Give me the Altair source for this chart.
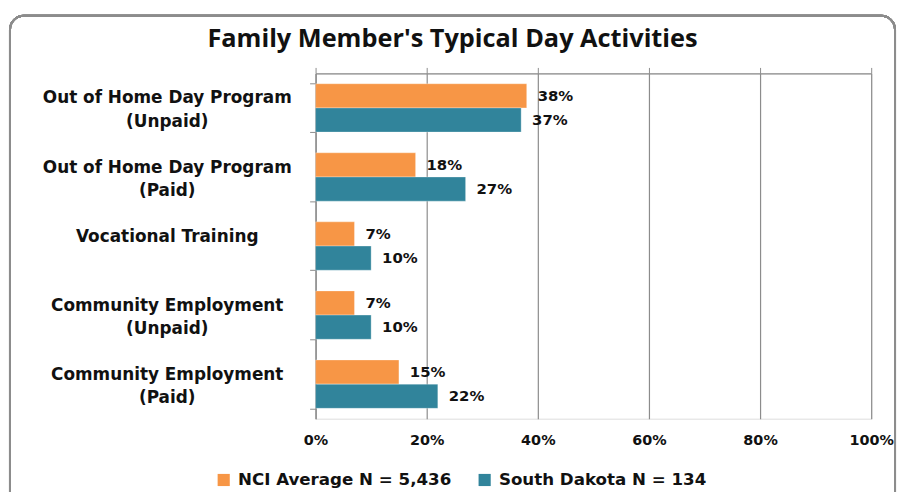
import altair as alt
import pandas as pd

categories = [
    "Out of Home Day Program (Unpaid)",
    "Out of Home Day Program (Paid)",
    "Vocational Training",
    "Community Employment (Unpaid)",
    "Community Employment (Paid)",
]
series = ["NCI Average N = 5,436", "South Dakota N = 134"]
nci_values = [38, 18, 7, 7, 15]
sd_values = [37, 27, 10, 10, 22]
colors = ["#F79646", "#31849B"]
x_ticks = [0, 20, 40, 60, 80, 100]

rows = []
for c, a, b in zip(categories, nci_values, sd_values):
    rows.append({"cat": c, "series": series[0], "value": a})
    rows.append({"cat": c, "series": series[1], "value": b})
df = pd.DataFrame(rows)

FONT = "DejaVu Sans"
TFONT = "Open Sans"
W, H = 560, 348

y_enc = alt.Y(
    "cat:N", sort=categories, title=None,
    scale=alt.Scale(paddingInner=0.3, paddingOuter=0.15),
    axis=alt.Axis(
        labelExpr="indexof(datum.label,' (')>0 ? [substring(datum.label,0,indexof(datum.label,' (')), substring(datum.label,indexof(datum.label,' (')+1)] : datum.label",
        labelOffset=-10,
        labelAlign="center", labelPadding=144, labelFont=FONT, labelFontSize=17,
        labelFontWeight="bold", labelColor="#111111", labelLineHeight=24, labelLimit=400,
        tickBand="extent", tickSize=6, tickColor="#8c8c8c", domainColor="#8c8c8c",
        domainWidth=1.2, grid=False,
    ),
)
yoff = alt.YOffset("series:N", sort=series, scale=alt.Scale(paddingInner=0, paddingOuter=0))
x_scale = alt.Scale(domain=[0, 100], nice=False)

bars = alt.Chart(df).mark_bar(stroke="#ffffff", strokeOpacity=0.5, strokeWidth=0.6).encode(
    x=alt.X("value:Q", scale=x_scale, title=None,
            axis=alt.Axis(values=x_ticks, labelExpr="datum.value + '%'", orient="bottom",
                          grid=True, gridColor="#8c8c8c", gridWidth=1.2, domain=False, ticks=False,
                          labelFlush=False, labelFont=FONT, labelFontSize=14.5,
                          labelFontWeight="bold", labelColor="#111111", labelPadding=15)),
    y=y_enc,
    yOffset=yoff,
    color=alt.Color("series:N", sort=series,
                    scale=alt.Scale(domain=series, range=colors),
                    legend=alt.Legend(title=None, orient="none", direction="horizontal",
                                      legendX=-101, legendY=401, symbolType="square",
                                      symbolSize=150, symbolStrokeWidth=0, labelFont=FONT,
                                      labelFontSize=16.8, labelFontWeight="bold", labelLimit=400,
                                      labelColor="#111111", columnPadding=25, labelOffset=6)),
)

labels = alt.Chart(df).mark_text(align="left", baseline="middle", dx=11, font=FONT,
                                 fontSize=15, fontWeight="bold", color="#111111").encode(
    x=alt.X("value:Q", scale=x_scale, axis=None),
    y=alt.Y("cat:N", sort=categories),
    yOffset=yoff,
    text=alt.Text("label:N"),
).transform_calculate(label="datum.value + '%'")

top_axis = alt.Chart(df).mark_point(opacity=0).encode(
    x=alt.X("value:Q", scale=x_scale, title=None,
            axis=alt.Axis(values=x_ticks, orient="top", labels=False, grid=False,
                          tickSize=6, tickColor="#8c8c8c", domainColor="#8c8c8c", domainWidth=1.2)),
)

frame = alt.Chart(df).mark_rect(fillOpacity=0, stroke="#8c8c8c", strokeWidth=2, cornerRadius=14).encode(
    x=alt.value(-308), x2=alt.value(W + 24), y=alt.value(-58), y2=alt.value(H + 120),
)

chart = alt.layer(frame, bars, labels, top_axis).properties(
    width=W, height=H,
    autosize=alt.AutoSizeParams(type="none"),
    padding={"left": 310, "top": 64, "right": 26, "bottom": 72},
    title=alt.Title("Family Member's Typical Day Activities", font=TFONT, fontSize=25.5,
                    fontWeight="bold", color="#111111", anchor="middle", frame="bounds", offset=-38),
).configure_view(fill="#EAEAEA", stroke=None).configure(background="#ffffff")

chart.save("out.html", embed_options={"renderer": "svg", "actions": False})
